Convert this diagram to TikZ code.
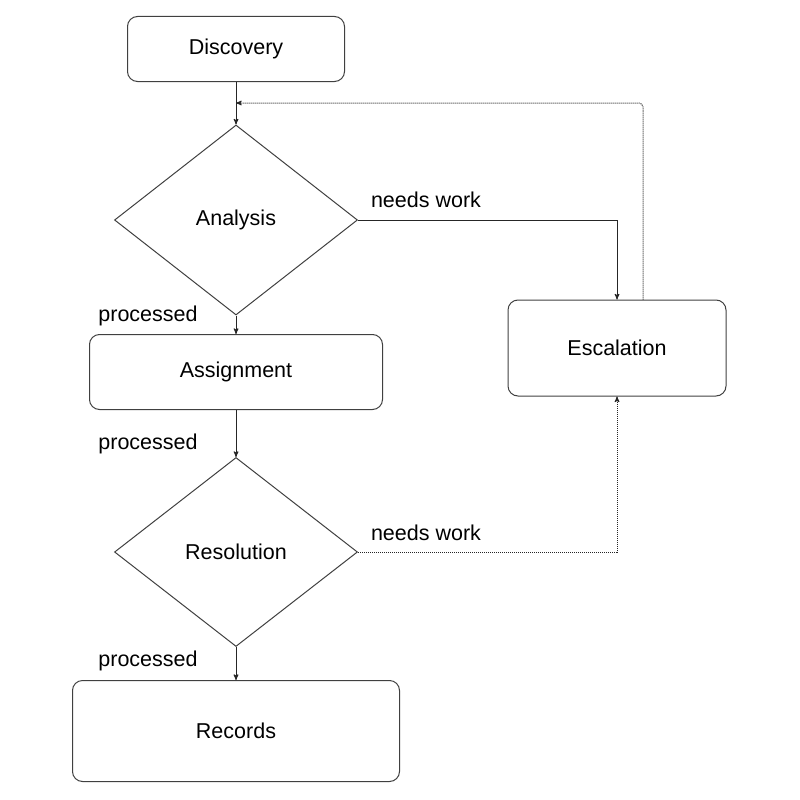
\documentclass[tikz,border=0pt]{standalone}
\usepackage{fontspec}
\setmainfont{Liberation Sans}
\usepackage{tikz}
\usetikzlibrary{arrows}
\usetikzlibrary{shapes.geometric}
\tikzset{
  stepbox/.style={draw=black!75, line width=1pt, rounded corners=10pt, font=\fontsize{21.5}{26}\selectfont},
  choice/.style={draw=black!75, line width=1pt, diamond, inner sep=0pt, font=\fontsize{21.5}{26}\selectfont},
  flow/.style={draw=black!85, line width=1pt, ->, >=stealth'},
  lbl/.style={font=\fontsize{21.5}{26}\selectfont}
}

\begin{document}
\begin{tikzpicture} [x=1pt, y=-1pt]
\useasboundingbox (0,0) rectangle (800,800);
% boxes
\node[stepbox, minimum width=217pt, minimum height=65pt]  (disc) at (236,49)  {Discovery};
\node[choice,  minimum width=243pt, minimum height=190pt] (ana)  at (236,220) {Analysis};
\node[stepbox, minimum width=293pt, minimum height=75pt]  (asg)  at (236,372) {Assignment};
\node[choice,  minimum width=243pt, minimum height=189pt] (res)  at (236,552) {Resolution};
\node[stepbox, minimum width=327pt, minimum height=101pt] (rec)  at (236,731) {Records};
\node[stepbox, minimum width=218pt, minimum height=96pt]  (esc)  at (617,348) {Escalation};
% labels
\node[lbl] (nw1) at (426,200) {needs work};
\node[lbl] (nw2) at (426,533) {needs work};
\node[lbl] (pr1) at (148,316) {processed};
\node[lbl] (pr2) at (148,444) {processed};
\node[lbl] (pr3) at (148,661) {processed};
% connectors
\coordinate (back) at (236,103);
\draw[flow] (disc) -- (ana);
\draw[flow] (ana) -- (asg);
\draw[flow] (asg) -- (res);
\draw[flow] (res) -- (rec);
\draw[flow] (ana.east) -| (esc.north);
\draw[flow, densely dotted] (res.east) -| (esc.south);
\draw[flow, densely dotted, rounded corners=4pt] ([xshift=26pt]esc.north) |- (back);
\end{tikzpicture}
\end{document}
